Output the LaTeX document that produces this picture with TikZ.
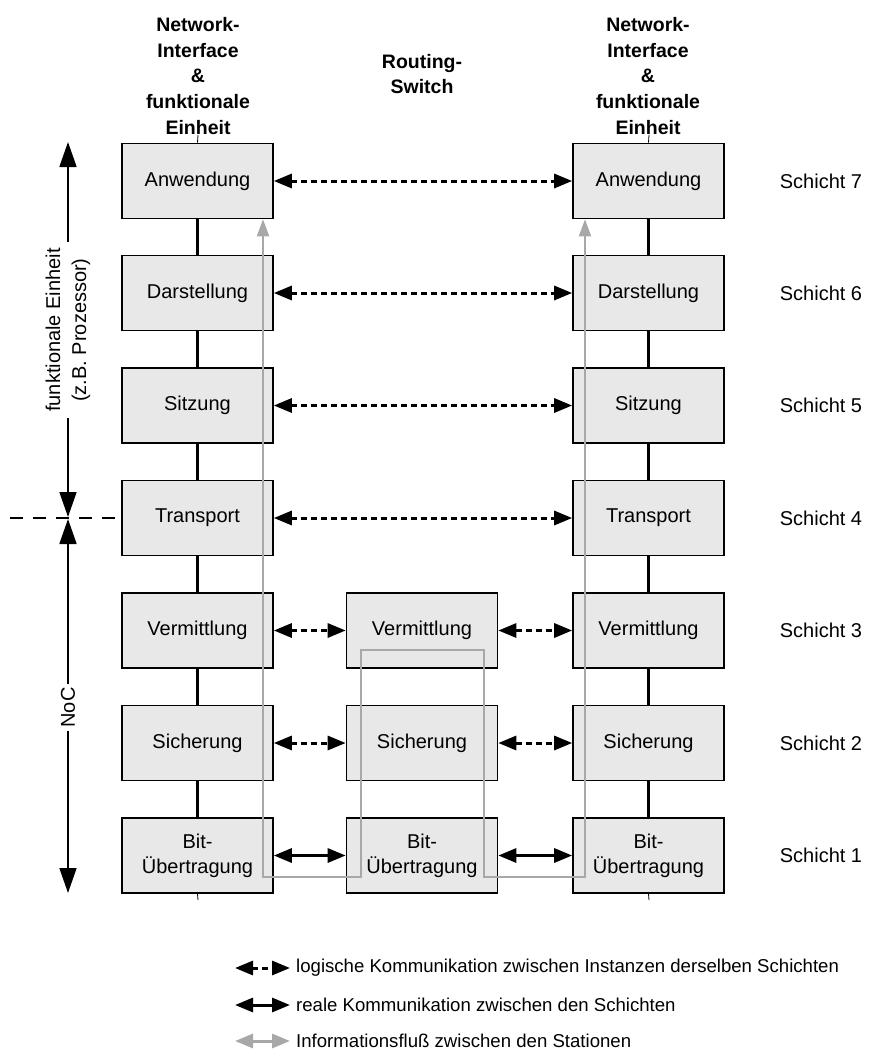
\documentclass[tikz,border=0pt]{standalone}
\usepackage{fontspec}
\setmainfont{Liberation Sans}
\usetikzlibrary{arrows.meta}

\definecolor{boxgray}{HTML}{E8E8E8}
\definecolor{flowgray}{HTML}{A8A8A8}

\tikzset{
  layer/.style={draw, line width=1.6pt, fill=boxgray, minimum width=151pt,
    minimum height=75pt, inner sep=0pt, align=center,
    font=\fontsize{20}{25}\selectfont},
  head/.style={align=center, font=\bfseries\fontsize{19.5}{25.7}\selectfont},
  lbl/.style={font=\fontsize{20}{25}\selectfont},
  legendtext/.style={anchor=west, inner sep=0pt, font=\fontsize{18.6}{22}\selectfont},
  link/.style={line width=2.4pt},
  stub/.style={line width=0.8pt},
  tipA/.tip={Triangle[length=18pt,width=14pt]},
  logic/.style={line width=3pt, dash pattern=on 6pt off 4pt, tipA-tipA},
  real/.style={line width=3pt, tipA-tipA},
  flow/.style={draw=flowgray, line width=2pt,
    {Triangle[length=17pt,width=12pt,fill=flowgray]}-{Triangle[length=17pt,width=12pt,fill=flowgray]}},
  flowlegend/.style={draw=flowgray, line width=3pt,
    {Triangle[length=18pt,width=14pt,fill=flowgray]}-{Triangle[length=18pt,width=14pt,fill=flowgray]}},
  axis/.style={line width=1.8pt, -{Triangle[length=25pt,width=17pt]}},
  sidetext/.style={rotate=90, align=center, font=\fontsize{20}{26}\selectfont},
}

\begin{document}
\begin{tikzpicture}[x=1pt,y=-1pt]
\useasboundingbox (0,0) rectangle (872,1055);

% column headings
\node[head] (hl) at (198,76) {Network-\\Interface\\\&\\funktionale\\Einheit};
\node[head] (hm) at (422,74) {Routing-\\Switch};
\node[head] (hr) at (648,76) {Network-\\Interface\\\&\\funktionale\\Einheit};

% left station
\node[layer] (l7) at (197.5,181) {Anwendung};
\node[layer] (l6) at (197.5,293) {Darstellung};
\node[layer] (l5) at (197.5,405.5) {Sitzung};
\node[layer] (l4) at (197.5,518) {Transport};
\node[layer] (l3) at (197.5,630.5) {Vermittlung};
\node[layer] (l2) at (197.5,743) {Sicherung};
\node[layer] (l1) at (197.5,855.5) {Bit-\\Übertragung};

% routing switch
\node[layer] (m3) at (422,630.5) {Vermittlung};
\node[layer] (m2) at (422,743) {Sicherung};
\node[layer] (m1) at (422,855.5) {Bit-\\Übertragung};

% right station
\node[layer] (r7) at (648.5,181) {Anwendung};
\node[layer] (r6) at (648.5,293) {Darstellung};
\node[layer] (r5) at (648.5,405.5) {Sitzung};
\node[layer] (r4) at (648.5,518) {Transport};
\node[layer] (r3) at (648.5,630.5) {Vermittlung};
\node[layer] (r2) at (648.5,743) {Sicherung};
\node[layer] (r1) at (648.5,855.5) {Bit-\\Übertragung};

% layer numbers
\node[lbl] (s7) at (821,181) {Schicht 7};
\node[lbl] (s6) at (821,293) {Schicht 6};
\node[lbl] (s5) at (821,405.5) {Schicht 5};
\node[lbl] (s4) at (821,518) {Schicht 4};
\node[lbl] (s3) at (821,630.5) {Schicht 3};
\node[lbl] (s2) at (821,743) {Schicht 2};
\node[lbl] (s1) at (821,855.5) {Schicht 1};

% vertical links inside each station
\foreach \c in {l,r}{
  \draw[link] (\c7.south) -- (\c6.north);
  \draw[link] (\c6.south) -- (\c5.north);
  \draw[link] (\c5.south) -- (\c4.north);
  \draw[link] (\c4.south) -- (\c3.north);
  \draw[link] (\c3.south) -- (\c2.north);
  \draw[link] (\c2.south) -- (\c1.north);
}
\coordinate (lt) at (198,135);
\coordinate (rt) at (649,135);
\coordinate (lb) at (198,900);
\coordinate (rb) at (649,900);
\draw[stub] (lt) -- (l7.north);
\draw[stub] (rt) -- (r7.north);
\draw[stub] (l1.south) -- (lb);
\draw[stub] (r1.south) -- (rb);

% logical peer communication
\draw[logic] (l7.east) -- (r7.west);
\draw[logic] (l6.east) -- (r6.west);
\draw[logic] (l5.east) -- (r5.west);
\draw[logic] (l4.east) -- (r4.west);
\draw[logic] (l3.east) -- (m3.west);
\draw[logic] (m3.east) -- (r3.west);
\draw[logic] (l2.east) -- (m2.west);
\draw[logic] (m2.east) -- (r2.west);

% physical communication
\draw[real] (l1.east) -- (m1.west);
\draw[real] (m1.east) -- (r1.west);

% information flow between the stations
\coordinate (ga) at (263,0);
\coordinate (gb) at (585,0);
\draw[flow] (l7.south -| ga) -- (263,877) -- (361,877) -- (361,650)
  -- (484,650) -- (484,877) -- (585,877) -- (r7.south -| gb);

% range markers on the left
\coordinate (ftop) at (68,142);
\coordinate (fbot) at (68,517);
\coordinate (ntop) at (68,519);
\coordinate (nbot) at (68,893);
\node[sidetext, inner sep=6pt] (fe) at (68,330) {funktionale Einheit\\(z.B. Prozessor)};
\node[sidetext, inner sep=3pt] (noc) at (68,707.5) {NoC};
\draw[axis] (fe.east) -- (ftop);
\draw[axis] (fe.west) -- (fbot);
\draw[axis] (noc.east) -- (ntop);
\draw[axis] (noc.west) -- (nbot);
\coordinate (dl) at (10,518);
\draw[line width=1.6pt, dash pattern=on 13pt off 10pt] (dl) -- ([xshift=-5pt]l4.west);

% legend
\coordinate (a1) at (235,968);  \coordinate (b1) at (290,968);
\coordinate (a2) at (235,1005); \coordinate (b2) at (290,1005);
\coordinate (a3) at (235,1041); \coordinate (b3) at (290,1041);
\draw[logic] (a1) -- (b1);
\draw[real] (a2) -- (b2);
\draw[flowlegend] (a3) -- (b3);
\node[legendtext] (t1) at (296,968) {logische Kommunikation zwischen Instanzen derselben Schichten};
\node[legendtext] (t2) at (296,1005) {reale Kommunikation zwischen den Schichten};
\node[legendtext] (t3) at (296,1041) {Informationsfluß zwischen den Stationen};
\end{tikzpicture}
\end{document}
